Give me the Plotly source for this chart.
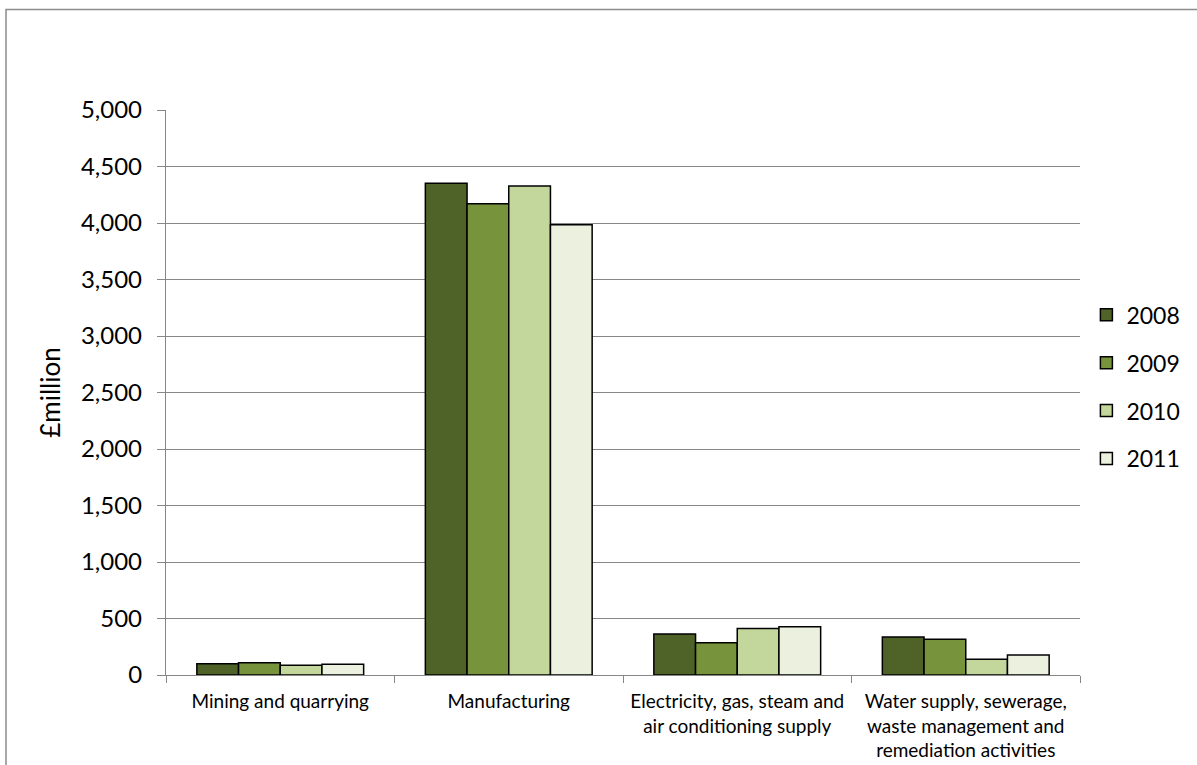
import plotly.graph_objects as go

# Categories (industry sections) and yearly values, £million
categories = [
    "Mining and quarrying",
    "Manufacturing",
    "Electricity, gas, steam and<br>air conditioning supply",
    "Water supply, sewerage,<br>waste management and<br>remediation activities",
]
years = ["2008", "2009", "2010", "2011"]
values_2008 = [100, 4351, 363, 336]
values_2009 = [109, 4171, 286, 316]
values_2010 = [86, 4327, 411, 140]
values_2011 = [95, 3985, 426, 176]
series = [values_2008, values_2009, values_2010, values_2011]
colors = ["#4F6228", "#77933C", "#C3D69B", "#EBF1DE"]

y_ticks = [0, 500, 1000, 1500, 2000, 2500, 3000, 3500, 4000, 4500, 5000]
y_tick_labels = ["0", "500", "1,000", "1,500", "2,000", "2,500", "3,000",
                 "3,500", "4,000", "4,500", "5,000"]

FONT = "Lato"
GRID = "#878787"

fig = go.Figure()
for year, vals, col in zip(years, series, colors):
    fig.add_trace(go.Bar(
        name=year,
        x=categories,
        y=vals,
        legendgroup=year,
        marker=dict(color=col, line=dict(color="black", width=1.5)),
    ))

fig.update_layout(
    width=1197,
    height=765,
    margin=dict(l=166, r=117, t=110, b=90, autoexpand=False),
    paper_bgcolor="white",
    plot_bgcolor="white",
    barmode="group",
    bargap=0.27,
    bargroupgap=0,
    font=dict(family=FONT, color="black"),
    showlegend=True,
    legend=dict(
        x=1.007, y=0.51, xanchor="left", yanchor="middle",
        font=dict(family=FONT, size=23, color="black"),
        tracegroupgap=15,
        itemwidth=30,
        bgcolor="rgba(0,0,0,0)",
    ),
    xaxis=dict(
        type="category",
        tickson="boundaries",
        ticks="outside",
        ticklen=7,
        tickwidth=1.3,
        tickcolor=GRID,
        showline=True,
        linecolor=GRID,
        linewidth=1.3,
        showgrid=False,
        tickangle=0,
        ticklabelstandoff=9,
        tickfont=dict(family=FONT, size=19, color="black"),
    ),
    yaxis=dict(
        range=[0, 5000],
        tickvals=y_ticks,
        ticktext=y_tick_labels,
        ticks="outside",
        ticklen=8,
        tickwidth=1.3,
        tickcolor=GRID,
        showline=True,
        linecolor=GRID,
        linewidth=1.3,
        showgrid=True,
        gridcolor=GRID,
        gridwidth=1.3,
        zeroline=False,
        ticklabelstandoff=10,
        tickfont=dict(family=FONT, size=24, color="black"),
        title=dict(text="£million", font=dict(family=FONT, size=26, color="black"), standoff=12),
    ),
    shapes=[
        # chart-area frame (open at right and bottom edges of the page)
        dict(type="rect", xref="paper", yref="paper",
             x0=(6 - 166) / 914, x1=(1210 - 166) / 914,
             y0=(675 - 780) / 565, y1=(675 - 9.5) / 565,
             line=dict(color="#8C8C8C", width=1.5), fillcolor="rgba(0,0,0,0)", layer="below"),
    ],
)

fig.write_html("out.html")
